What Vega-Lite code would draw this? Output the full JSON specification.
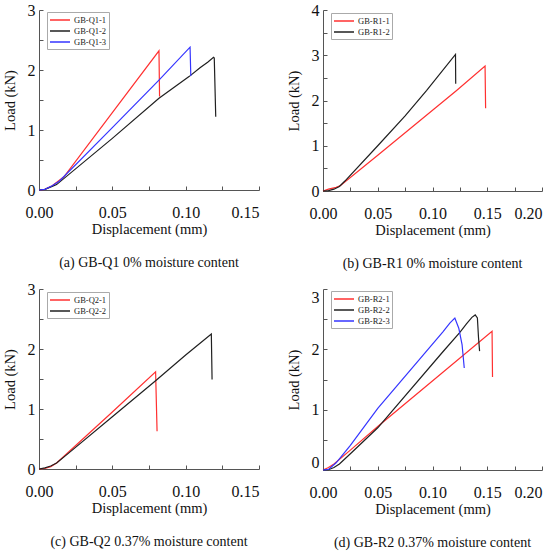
{
  "$schema": "https://vega.github.io/schema/vega-lite/v6.json",
  "background": "white",
  "padding": {"left": 2, "top": 2, "right": 2, "bottom": 2},
  "config": {
    "font": "Liberation Serif",
    "view": {"stroke": null},
    "axis": {
      "grid": false,
      "domainColor": "#555555",
      "tickColor": "#555555",
      "tickSize": -4,
      "labelFlush": false,
      "labelFont": "Liberation Serif",
      "labelFontSize": 16,
      "labelColor": "#111111",
      "titleFont": "Liberation Serif",
      "titleFontSize": 14.5,
      "titleFontWeight": "normal",
      "titleColor": "#111111"
    },
    "axisX": {"labelPadding": 18, "titlePadding": 2},
    "axisY": {"labelPadding": 8, "titlePadding": 10},
    "legend": {
      "orient": "none",
      "title": null,
      "strokeColor": "#aaaaaa",
      "padding": 2,
      "labelFont": "Liberation Serif",
      "labelFontSize": 8.5,
      "labelColor": "#222222",
      "symbolType": "M-1,0H3",
      "symbolSize": 100,
      "symbolStrokeWidth": 1.5,
      "rowPadding": 0,
      "labelOffset": 13
    },
    "title": {"font": "Liberation Serif", "fontSize": 14, "fontWeight": "normal", "color": "#111111"}
  },
  "datasets": {
    "curves": [
      {"p": "a", "s": "GB-Q1-1", "o": 0, "x": 0, "y": 0},
      {"p": "a", "s": "GB-Q1-1", "o": 1, "x": 0.004, "y": 0.01},
      {"p": "a", "s": "GB-Q1-1", "o": 2, "x": 0.009, "y": 0.07},
      {"p": "a", "s": "GB-Q1-1", "o": 3, "x": 0.017, "y": 0.22},
      {"p": "a", "s": "GB-Q1-1", "o": 4, "x": 0.05, "y": 1.29},
      {"p": "a", "s": "GB-Q1-1", "o": 5, "x": 0.0818, "y": 2.32},
      {"p": "a", "s": "GB-Q1-1", "o": 6, "x": 0.0822, "y": 1.56},
      {"p": "a", "s": "GB-Q1-2", "o": 0, "x": 0, "y": 0},
      {"p": "a", "s": "GB-Q1-2", "o": 1, "x": 0.004, "y": 0.01},
      {"p": "a", "s": "GB-Q1-2", "o": 2, "x": 0.009, "y": 0.06},
      {"p": "a", "s": "GB-Q1-2", "o": 3, "x": 0.012, "y": 0.09},
      {"p": "a", "s": "GB-Q1-2", "o": 4, "x": 0.05, "y": 0.86},
      {"p": "a", "s": "GB-Q1-2", "o": 5, "x": 0.0818, "y": 1.53},
      {"p": "a", "s": "GB-Q1-2", "o": 6, "x": 0.1023, "y": 1.89},
      {"p": "a", "s": "GB-Q1-2", "o": 7, "x": 0.11, "y": 2.04},
      {"p": "a", "s": "GB-Q1-2", "o": 8, "x": 0.115, "y": 2.13},
      {"p": "a", "s": "GB-Q1-2", "o": 9, "x": 0.119, "y": 2.21},
      {"p": "a", "s": "GB-Q1-2", "o": 10, "x": 0.1195, "y": 2.2},
      {"p": "a", "s": "GB-Q1-2", "o": 11, "x": 0.1205, "y": 1.22},
      {"p": "a", "s": "GB-Q1-3", "o": 0, "x": 0, "y": 0},
      {"p": "a", "s": "GB-Q1-3", "o": 1, "x": 0.004, "y": 0.01},
      {"p": "a", "s": "GB-Q1-3", "o": 2, "x": 0.009, "y": 0.07},
      {"p": "a", "s": "GB-Q1-3", "o": 3, "x": 0.014, "y": 0.15},
      {"p": "a", "s": "GB-Q1-3", "o": 4, "x": 0.05, "y": 1.04},
      {"p": "a", "s": "GB-Q1-3", "o": 5, "x": 0.0818, "y": 1.83},
      {"p": "a", "s": "GB-Q1-3", "o": 6, "x": 0.103, "y": 2.38},
      {"p": "a", "s": "GB-Q1-3", "o": 7, "x": 0.1035, "y": 1.9},

      {"p": "b", "s": "GB-R1-1", "o": 0, "x": 0, "y": 0},
      {"p": "b", "s": "GB-R1-1", "o": 1, "x": 0.005, "y": 0.04},
      {"p": "b", "s": "GB-R1-1", "o": 2, "x": 0.012, "y": 0.08},
      {"p": "b", "s": "GB-R1-1", "o": 3, "x": 0.016, "y": 0.12},
      {"p": "b", "s": "GB-R1-1", "o": 4, "x": 0.05, "y": 0.79},
      {"p": "b", "s": "GB-R1-1", "o": 5, "x": 0.122, "y": 2.22},
      {"p": "b", "s": "GB-R1-1", "o": 6, "x": 0.148, "y": 2.76},
      {"p": "b", "s": "GB-R1-1", "o": 7, "x": 0.1485, "y": 1.83},
      {"p": "b", "s": "GB-R1-2", "o": 0, "x": 0, "y": 0},
      {"p": "b", "s": "GB-R1-2", "o": 1, "x": 0.005, "y": 0.01},
      {"p": "b", "s": "GB-R1-2", "o": 2, "x": 0.01, "y": 0.04},
      {"p": "b", "s": "GB-R1-2", "o": 3, "x": 0.015, "y": 0.1},
      {"p": "b", "s": "GB-R1-2", "o": 4, "x": 0.02, "y": 0.22},
      {"p": "b", "s": "GB-R1-2", "o": 5, "x": 0.05, "y": 1.0},
      {"p": "b", "s": "GB-R1-2", "o": 6, "x": 0.075, "y": 1.66},
      {"p": "b", "s": "GB-R1-2", "o": 7, "x": 0.0945, "y": 2.22},
      {"p": "b", "s": "GB-R1-2", "o": 8, "x": 0.121, "y": 3.02},
      {"p": "b", "s": "GB-R1-2", "o": 9, "x": 0.1212, "y": 2.37},

      {"p": "c", "s": "GB-Q2-1", "o": 0, "x": 0, "y": 0},
      {"p": "c", "s": "GB-Q2-1", "o": 1, "x": 0.004, "y": 0.01},
      {"p": "c", "s": "GB-Q2-1", "o": 2, "x": 0.008, "y": 0.04},
      {"p": "c", "s": "GB-Q2-1", "o": 3, "x": 0.012, "y": 0.1},
      {"p": "c", "s": "GB-Q2-1", "o": 4, "x": 0.02, "y": 0.28},
      {"p": "c", "s": "GB-Q2-1", "o": 5, "x": 0.05, "y": 0.95},
      {"p": "c", "s": "GB-Q2-1", "o": 6, "x": 0.0795, "y": 1.62},
      {"p": "c", "s": "GB-Q2-1", "o": 7, "x": 0.0805, "y": 0.63},
      {"p": "c", "s": "GB-Q2-2", "o": 0, "x": 0, "y": 0},
      {"p": "c", "s": "GB-Q2-2", "o": 1, "x": 0.004, "y": 0.02},
      {"p": "c", "s": "GB-Q2-2", "o": 2, "x": 0.008, "y": 0.05},
      {"p": "c", "s": "GB-Q2-2", "o": 3, "x": 0.012, "y": 0.1},
      {"p": "c", "s": "GB-Q2-2", "o": 4, "x": 0.02, "y": 0.26},
      {"p": "c", "s": "GB-Q2-2", "o": 5, "x": 0.05, "y": 0.87},
      {"p": "c", "s": "GB-Q2-2", "o": 6, "x": 0.0795, "y": 1.47},
      {"p": "c", "s": "GB-Q2-2", "o": 7, "x": 0.1, "y": 1.9},
      {"p": "c", "s": "GB-Q2-2", "o": 8, "x": 0.1175, "y": 2.25},
      {"p": "c", "s": "GB-Q2-2", "o": 9, "x": 0.118, "y": 1.49},

      {"p": "d", "s": "GB-R2-1", "o": 0, "x": 0, "y": 0},
      {"p": "d", "s": "GB-R2-1", "o": 1, "x": 0.005, "y": 0.04},
      {"p": "d", "s": "GB-R2-1", "o": 2, "x": 0.01, "y": 0.1},
      {"p": "d", "s": "GB-R2-1", "o": 3, "x": 0.025, "y": 0.33},
      {"p": "d", "s": "GB-R2-1", "o": 4, "x": 0.05, "y": 0.72},
      {"p": "d", "s": "GB-R2-1", "o": 5, "x": 0.1095, "y": 1.62},
      {"p": "d", "s": "GB-R2-1", "o": 6, "x": 0.1544, "y": 2.3},
      {"p": "d", "s": "GB-R2-1", "o": 7, "x": 0.1548, "y": 1.54},
      {"p": "d", "s": "GB-R2-2", "o": 0, "x": 0, "y": 0},
      {"p": "d", "s": "GB-R2-2", "o": 1, "x": 0.005, "y": 0.005},
      {"p": "d", "s": "GB-R2-2", "o": 2, "x": 0.01, "y": 0.04},
      {"p": "d", "s": "GB-R2-2", "o": 3, "x": 0.015, "y": 0.1},
      {"p": "d", "s": "GB-R2-2", "o": 4, "x": 0.025, "y": 0.27},
      {"p": "d", "s": "GB-R2-2", "o": 5, "x": 0.05, "y": 0.7},
      {"p": "d", "s": "GB-R2-2", "o": 6, "x": 0.1095, "y": 1.96},
      {"p": "d", "s": "GB-R2-2", "o": 7, "x": 0.125, "y": 2.28},
      {"p": "d", "s": "GB-R2-2", "o": 8, "x": 0.131, "y": 2.42},
      {"p": "d", "s": "GB-R2-2", "o": 9, "x": 0.136, "y": 2.53},
      {"p": "d", "s": "GB-R2-2", "o": 10, "x": 0.139, "y": 2.57},
      {"p": "d", "s": "GB-R2-2", "o": 11, "x": 0.141, "y": 2.52},
      {"p": "d", "s": "GB-R2-2", "o": 12, "x": 0.142, "y": 2.2},
      {"p": "d", "s": "GB-R2-2", "o": 13, "x": 0.143, "y": 1.97},
      {"p": "d", "s": "GB-R2-3", "o": 0, "x": 0, "y": 0},
      {"p": "d", "s": "GB-R2-3", "o": 1, "x": 0.005, "y": 0.01},
      {"p": "d", "s": "GB-R2-3", "o": 2, "x": 0.012, "y": 0.12},
      {"p": "d", "s": "GB-R2-3", "o": 3, "x": 0.025, "y": 0.41},
      {"p": "d", "s": "GB-R2-3", "o": 4, "x": 0.05, "y": 1.02},
      {"p": "d", "s": "GB-R2-3", "o": 5, "x": 0.1095, "y": 2.29},
      {"p": "d", "s": "GB-R2-3", "o": 6, "x": 0.116, "y": 2.44},
      {"p": "d", "s": "GB-R2-3", "o": 7, "x": 0.1204, "y": 2.52},
      {"p": "d", "s": "GB-R2-3", "o": 8, "x": 0.124, "y": 2.35},
      {"p": "d", "s": "GB-R2-3", "o": 9, "x": 0.127, "y": 2.08},
      {"p": "d", "s": "GB-R2-3", "o": 10, "x": 0.129, "y": 1.69}
    ]
  },
  "resolve": {"scale": {"color": "independent"}, "legend": {"color": "independent"}},
  "spacing": 10,
  "vconcat": [
    {
      "spacing": 26,
      "resolve": {"scale": {"color": "independent"}, "legend": {"color": "independent"}},
      "hconcat": [
        {
          "width": 220,
          "height": 180,
          "title": {"text": "(a) GB-Q1 0% moisture content", "orient": "bottom", "offset": 20},
          "data": {"name": "curves"},
          "transform": [{"filter": "datum.p == 'a'"}],
          "mark": {"type": "line", "strokeWidth": 1.2},
          "encoding": {
            "x": {"field": "x", "type": "quantitative", "title": "Displacement (mm)",
                  "scale": {"domain": [0, 0.15], "nice": false},
                  "axis": {"values": [0, 0.025, 0.05, 0.075, 0.1, 0.125, 0.15],
                           "labelAlign": {"condition": {"test": "datum.value >= 0.149", "value": "right"}, "value": "center"},
                           "labelExpr": "round(datum.value * 40) % 2 == 0 ? format(datum.value, '.2f') : ''"}},
            "y": {"field": "y", "type": "quantitative", "title": "Load (kN)",
                  "scale": {"domain": [0, 3], "nice": false},
                  "axis": {"values": [0, 0.5, 1, 1.5, 2, 2.5, 3],
                           "labelExpr": "datum.value % 1 == 0 ? format(datum.value, 'd') : ''"}},
            "order": {"field": "o", "type": "quantitative"},
            "color": {"field": "s", "type": "nominal",
                      "scale": {"domain": ["GB-Q1-1", "GB-Q1-2", "GB-Q1-3"], "range": ["#ff3030", "#202020", "#3535ff"]},
                      "legend": {"legendX": 8, "legendY": 2}}
          }
        },
        {
          "width": 219,
          "height": 181,
          "title": {"text": "(b) GB-R1 0% moisture content", "orient": "bottom", "offset": 20},
          "data": {"name": "curves"},
          "transform": [{"filter": "datum.p == 'b'"}],
          "mark": {"type": "line", "strokeWidth": 1.2},
          "encoding": {
            "x": {"field": "x", "type": "quantitative", "title": "Displacement (mm)",
                  "scale": {"domain": [0, 0.2], "nice": false},
                  "axis": {"values": [0, 0.025, 0.05, 0.075, 0.1, 0.125, 0.15, 0.175, 0.2],
                           "labelAlign": {"condition": {"test": "datum.value >= 0.199", "value": "right"}, "value": "center"},
                           "labelExpr": "round(datum.value * 40) % 2 == 0 ? format(datum.value, '.2f') : ''"}},
            "y": {"field": "y", "type": "quantitative", "title": "Load (kN)",
                  "scale": {"domain": [0, 4], "nice": false},
                  "axis": {"values": [0, 0.5, 1, 1.5, 2, 2.5, 3, 3.5, 4],
                           "labelExpr": "datum.value % 1 == 0 ? format(datum.value, 'd') : ''"}},
            "order": {"field": "o", "type": "quantitative"},
            "color": {"field": "s", "type": "nominal",
                      "scale": {"domain": ["GB-R1-1", "GB-R1-2"], "range": ["#ff3030", "#202020"]},
                      "legend": {"legendX": 8, "legendY": 3}}
          }
        }
      ]
    },
    {
      "spacing": 26,
      "resolve": {"scale": {"color": "independent"}, "legend": {"color": "independent"}},
      "hconcat": [
        {
          "width": 220,
          "height": 180,
          "title": {"text": "(c) GB-Q2 0.37% moisture content", "orient": "bottom", "offset": 20},
          "data": {"name": "curves"},
          "transform": [{"filter": "datum.p == 'c'"}],
          "mark": {"type": "line", "strokeWidth": 1.2},
          "encoding": {
            "x": {"field": "x", "type": "quantitative", "title": "Displacement (mm)",
                  "scale": {"domain": [0, 0.15], "nice": false},
                  "axis": {"values": [0, 0.025, 0.05, 0.075, 0.1, 0.125, 0.15],
                           "labelAlign": {"condition": {"test": "datum.value >= 0.149", "value": "right"}, "value": "center"},
                           "labelExpr": "round(datum.value * 40) % 2 == 0 ? format(datum.value, '.2f') : ''"}},
            "y": {"field": "y", "type": "quantitative", "title": "Load (kN)",
                  "scale": {"domain": [0, 3], "nice": false},
                  "axis": {"values": [0, 0.5, 1, 1.5, 2, 2.5, 3],
                           "labelExpr": "datum.value % 1 == 0 ? format(datum.value, 'd') : ''"}},
            "order": {"field": "o", "type": "quantitative"},
            "color": {"field": "s", "type": "nominal",
                      "scale": {"domain": ["GB-Q2-1", "GB-Q2-2"], "range": ["#ff3030", "#202020"]},
                      "legend": {"legendX": 8, "legendY": 3}}
          }
        },
        {
          "width": 219,
          "height": 181,
          "title": {"text": "(d) GB-R2 0.37% moisture content", "orient": "bottom", "offset": 20},
          "data": {"name": "curves"},
          "transform": [{"filter": "datum.p == 'd'"}],
          "mark": {"type": "line", "strokeWidth": 1.2},
          "encoding": {
            "x": {"field": "x", "type": "quantitative", "title": "Displacement (mm)",
                  "scale": {"domain": [0, 0.2], "nice": false},
                  "axis": {"values": [0, 0.025, 0.05, 0.075, 0.1, 0.125, 0.15, 0.175, 0.2],
                           "labelAlign": {"condition": {"test": "datum.value >= 0.199", "value": "right"}, "value": "center"},
                           "labelExpr": "round(datum.value * 40) % 2 == 0 ? format(datum.value, '.2f') : ''"}},
            "y": {"field": "y", "type": "quantitative", "title": "Load (kN)",
                  "scale": {"domain": [0, 3], "nice": false},
                  "axis": {"values": [0, 0.5, 1, 1.5, 2, 2.5, 3], "labelFlush": true,
                           "labelExpr": "datum.value % 1 == 0 ? format(datum.value, 'd') : ''"}},
            "order": {"field": "o", "type": "quantitative"},
            "color": {"field": "s", "type": "nominal",
                      "scale": {"domain": ["GB-R2-1", "GB-R2-2", "GB-R2-3"], "range": ["#ff3030", "#202020", "#3535ff"]},
                      "legend": {"legendX": 8, "legendY": 2}}
          }
        }
      ]
    }
  ]
}
